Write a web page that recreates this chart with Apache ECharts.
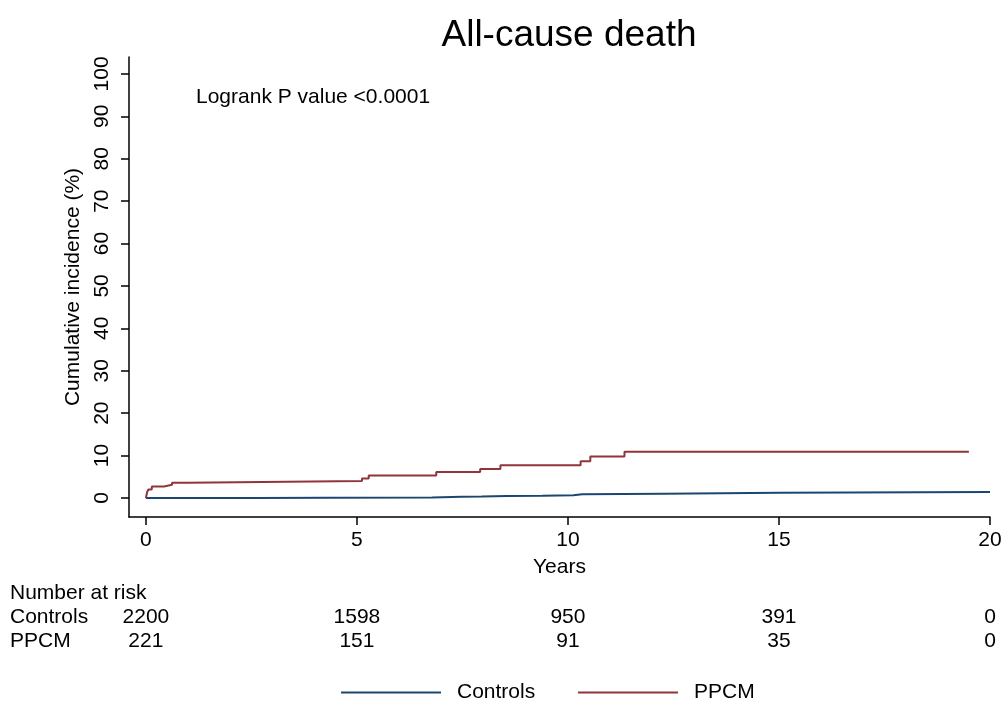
<!DOCTYPE html>
<html>
<head>
<meta charset="utf-8">
<script src="https://cdn.jsdelivr.net/npm/echarts@6/dist/echarts.min.js"></script>
<style>html,body{margin:0;padding:0;background:#fff}#c{width:1006px;height:701px}</style>
</head>
<body>
<div id="c"></div>
<script>
// ---- data ----
var controls = [[0,0],[2.6,0.05],[4.3,0.1],[6.78,0.3],[7.49,0.35],[7.96,0.45],[8.56,0.5],[9.39,0.65],[10.13,0.85],[10.34,1.0],[12.27,1.2],[15.02,1.4],[20,1.4]];
var ppcm = [[0,0],[0.03,1.4],[0.06,2.0],[0.14,2.7],[0.43,3.1],[0.62,3.6],[0.99,4.0],[5.12,4.6],[5.28,5.3],[6.88,6.1],[7.92,6.8],[8.40,7.7],[10.3,8.65],[10.53,9.75],[11.34,10.9],[19.5,10.9]];
var xTicks = [0,5,10,15,20];
var yTicks = [0,10,20,30,40,50,60,70,80,90,100];
var riskTimes = [0,5,10,15,20];
var riskRows = ['Controls','PPCM'];
var riskControls = [2200,1598,950,391,0];
var riskPPCM = [221,151,91,35,0];

var FONT = '"Liberation Sans", Arial, Helvetica, sans-serif';
var BLUE = '#1a476f', RED = '#90353b';

function riskData(vals, row){
  return riskTimes.map(function(t,i){ return [t, row, vals[i]]; });
}

var chart = echarts.init(document.getElementById('c'));
chart.setOption({
  animation:false,
  backgroundColor:'#fff',
  textStyle:{fontFamily:FONT},
  title:{text:'All-cause death', left:564, top:12, textAlign:'center',
    textStyle:{fontFamily:FONT, fontSize:37, fontWeight:'normal', color:'#000'}},
  graphic:[
    {type:'text', left:196, top:87, style:{text:'Logrank P value <0.0001', font:'21px '+FONT, fill:'#000'}},
    {type:'text', left:10, top:583, style:{text:'Number at risk', font:'21px '+FONT, fill:'#000'}}
  ],
  legend:[
    {left:341, top:682, itemWidth:100, itemHeight:2, icon:'rect', padding:0,
     data:['Controls'], textStyle:{fontFamily:FONT, fontSize:21, color:'#000', padding:[0,0,0,11]}},
    {left:578, top:682, itemWidth:100, itemHeight:2, icon:'rect', padding:0,
     data:['PPCM'], textStyle:{fontFamily:FONT, fontSize:21, color:'#000', padding:[0,0,0,11]}}
  ],
  grid:[
    {left:129, right:16, top:57, bottom:184},
    {left:129, right:16, top:605, height:48}
  ],
  xAxis:[
    {type:'value', gridIndex:0, min:-0.4, max:20,
     name:'Years', nameLocation:'middle', nameGap:40,
     nameTextStyle:{fontFamily:FONT, fontSize:21, color:'#000'},
     axisLine:{onZero:false, lineStyle:{color:'#000', width:1.5}},
     axisTick:{show:true, length:8, lineStyle:{color:'#000', width:1.5}, customValues:xTicks},
     axisLabel:{fontFamily:FONT, fontSize:21, color:'#000', margin:13, customValues:xTicks},
     splitLine:{show:false}},
    {type:'value', gridIndex:1, min:-0.4, max:20, show:false}
  ],
  yAxis:[
    {type:'value', gridIndex:0, min:-4.5, max:104,
     name:'Cumulative incidence (%)', nameLocation:'middle', nameGap:36,
     nameTextStyle:{fontFamily:FONT, fontSize:21, color:'#000'},
     axisLine:{show:true, onZero:false, lineStyle:{color:'#000', width:1.5}},
     axisTick:{show:true, length:8, lineStyle:{color:'#000', width:1.5}, customValues:yTicks},
     axisLabel:{fontFamily:FONT, fontSize:21, color:'#000', margin:16, rotate:90, customValues:yTicks},
     splitLine:{show:false}},
    {type:'category', gridIndex:1, data:riskRows, inverse:true,
     axisLine:{show:false}, axisTick:{show:false},
     axisLabel:{fontFamily:FONT, fontSize:21, color:'#000', align:'left', margin:119, interval:0}}
  ],
  series:[
    {name:'Controls', type:'line', step:'end', data:controls, showSymbol:false, symbol:'none',
     lineStyle:{color:BLUE, width:2}, itemStyle:{color:BLUE}, xAxisIndex:0, yAxisIndex:0},
    {name:'PPCM', type:'line', step:'end', data:ppcm, showSymbol:false, symbol:'none',
     lineStyle:{color:RED, width:2}, itemStyle:{color:RED}, xAxisIndex:0, yAxisIndex:0},
    {type:'scatter', xAxisIndex:1, yAxisIndex:1, symbolSize:0, silent:true,
     encode:{x:0, y:1},
     data:riskData(riskControls,'Controls').concat(riskData(riskPPCM,'PPCM')),
     itemStyle:{color:'#000', opacity:1},
     label:{show:true, position:'inside', fontFamily:FONT, fontSize:21, color:'#000',
       textBorderWidth:0, opacity:1,
       formatter:function(p){ return String(p.value[2]); }}}
  ]
});
</script>
</body>
</html>
